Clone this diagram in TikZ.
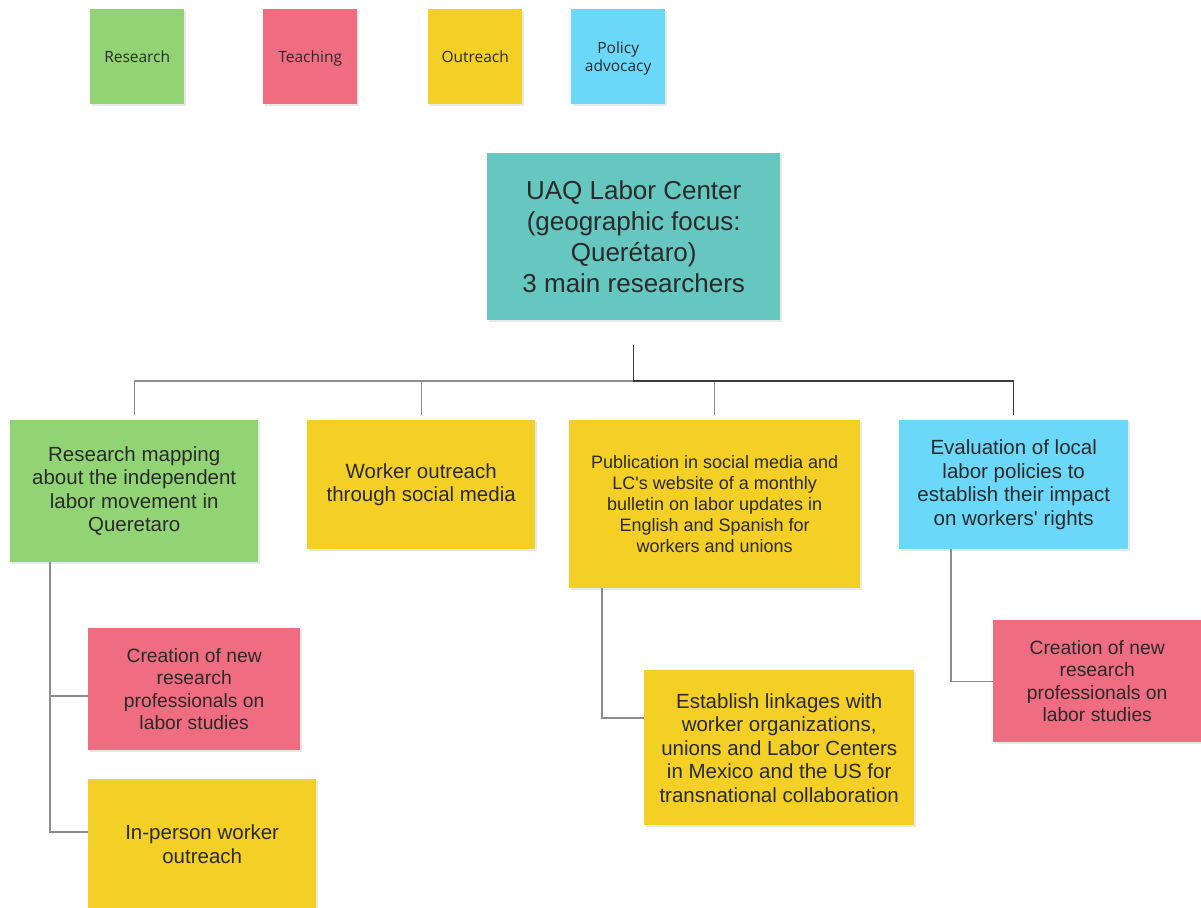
\documentclass[tikz,border=0pt]{standalone}
\usepackage{fontspec}
\setmainfont{Liberation Sans}
\newfontfamily\legendfont{Open Sans}
\usetikzlibrary{calc,shadows}
\definecolor{cgreen}{HTML}{92D475}
\definecolor{cred}{HTML}{F06C80}
\definecolor{cyellow}{HTML}{F4CF26}
\definecolor{cblue}{HTML}{6BD8FA}
\definecolor{cteal}{HTML}{66C7C0}
\definecolor{ctext}{HTML}{2A2A2A}
\definecolor{cline}{HTML}{8C8C8C}
\definecolor{cdark}{HTML}{3A3A3A}
\tikzset{
  note/.style={anchor=north west, inner sep=0pt, align=center, text=ctext,
    drop shadow={opacity=0.18, shadow xshift=1.5pt, shadow yshift=-1.5pt}},
  legendbox/.style={note, minimum width=94pt, minimum height=95pt, text depth=0pt,
    font=\legendfont\fontsize{15.5}{18}\selectfont},
  lvlone/.style={note, font=\fontsize{20.5}{23.5}\selectfont},
  lvlsmall/.style={note, font=\fontsize{18}{21}\selectfont},
  lvltwo/.style={note, font=\fontsize{19.3}{22.4}\selectfont},
  rootbox/.style={note, font=\fontsize{26}{30.7}\selectfont},
  grayline/.style={draw=cline, line width=1.2pt},
  darkline/.style={draw=cdark, line width=1.3pt},
}
\begin{document}
\begin{tikzpicture}[x=1pt,y=-1pt]
\useasboundingbox[fill=white] (0,0) rectangle (1201,907);

% legend
\node[legendbox, fill=cgreen] (lgR) at (90,9) {Research};
\node[legendbox, fill=cred] (lgT) at (263,9) {Teaching};
\node[legendbox, fill=cyellow] (lgO) at (428,9) {Outreach};
\node[legendbox, fill=cblue] (lgP) at (571,9) {Policy\\advocacy};

% root
\node[rootbox, fill=cteal, minimum width=293pt, minimum height=167pt] (root) at (487,153)
  {UAQ Labor Center\\(geographic focus:\\Querétaro)\\3 main researchers};

% level one
\node[lvlone, fill=cgreen, minimum width=248pt, minimum height=142pt] (A) at (10,420)
  {Research mapping\\about the independent\\labor movement in\\Queretaro};
\node[lvlone, fill=cyellow, minimum width=228pt, minimum height=129pt] (B) at (307,420)
  {Worker outreach\\through social media};
\node[lvlsmall, fill=cyellow, minimum width=291pt, minimum height=168pt] (C) at (569,420)
  {Publication in social media and\\LC\textquotesingle s website of a monthly\\bulletin on labor updates in\\English and Spanish for\\workers and unions};
\node[lvlone, fill=cblue, minimum width=229pt, minimum height=129pt] (D) at (899,420)
  {Evaluation of local\\labor policies to\\establish their impact\\on workers\textquotesingle\ rights};

% level two
\node[lvltwo, fill=cred, minimum width=212pt, minimum height=122pt] (A1) at (88,628)
  {Creation of new\\research\\professionals on\\labor studies};
\node[lvlone, fill=cyellow, minimum width=228pt, minimum height=130pt] (A2) at (88,779)
  {In-person worker\\outreach};
\node[lvlone, fill=cyellow, minimum width=270pt, minimum height=155pt] (C1) at (644,670)
  {Establish linkages with\\worker organizations,\\unions and Labor Centers\\in Mexico and the US for\\transnational collaboration};
\node[lvltwo, fill=cred, minimum width=208pt, minimum height=122pt] (D1) at (993,620)
  {Creation of new\\research\\professionals on\\labor studies};

% connectors
\coordinate (bus) at (632,381);
\draw[grayline] (root.south |- bus) -| ($(A.north)+(0,-5)$);
\draw[grayline] (B.north |- bus) -- ($(B.north)+(0,-5)$);
\draw[grayline] (C.north |- bus) -- ($(C.north)+(0,-5)$);
\draw[darkline] ($(root.south)+(0,25)$) -- (root.south |- bus) -| ($(D.north)+(0,-5)$);

\draw[grayline] ($(A.south west)+(40,0)$) |- ($(A1.north west)+(0,68)$);
\draw[grayline] ($(A.south west)+(40,0)$) |- ($(A2.north west)+(0,53)$);
\draw[grayline] ($(C.south west)+(33,0)$) |- ($(C1.north west)+(0,48)$);
\draw[grayline] ($(D.south west)+(52,0)$) |- (D1.west);
\end{tikzpicture}
\end{document}
